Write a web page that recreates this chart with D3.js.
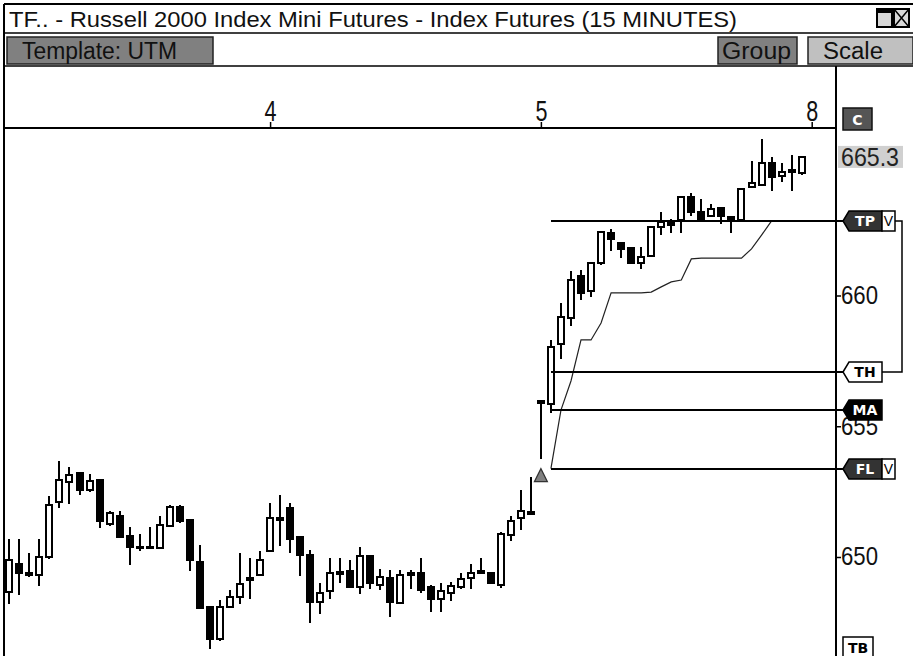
<!DOCTYPE html>
<html>
<head>
<meta charset="utf-8">
<script src="https://cdn.jsdelivr.net/npm/d3@7"></script>
<style>
  body { margin: 0; background: #fff; }
  svg { display: block; }
</style>
</head>
<body>
<div id="chart"></div>
<script>
const w = 913;
const h = 656;

const title = "TF.. - Russell 2000 Index Mini Futures - Index Futures (15 MINUTES)";
const template = "Template: UTM";

// barras de 15 minutos
const opens = [648.66, 649.73, 649.38, 649.31, 650.00, 652.10, 652.87, 653.21, 652.56, 652.94,
  651.26, 651.57, 650.80, 650.40, 650.40, 650.34, 651.19, 651.91, 651.41, 649.81,
  648.09, 646.86, 648.09, 648.47, 649.18, 649.31, 650.23, 651.48, 651.87, 650.76,
  650.08, 648.28, 648.70, 649.41, 649.46, 648.85, 650.04, 648.93, 649.20, 648.24,
  649.37, 649.39, 648.85, 648.39, 648.62, 648.85, 649.20, 649.45, 649.39, 648.93,
  650.84, 651.49, 651.72, 655.96, 655.86, 658.15, 659.14, 660.75, 660.17, 661.24,
  662.39, 662.01, 661.82, 661.24, 661.51, 662.62, 662.72, 662.89, 663.77, 663.19,
  663.04, 663.35, 663.00, 662.89, 664.15, 664.23, 665.07, 664.57, 664.79, 664.68];
const highs = [650.69, 650.69, 650.15, 650.69, 652.33, 653.67, 653.44, 653.25, 653.17, 652.98,
  651.76, 651.76, 651.15, 650.88, 651.15, 651.57, 651.99, 651.99, 651.41, 650.46,
  648.09, 648.36, 648.74, 650.15, 649.96, 650.23, 652.06, 652.37, 652.06, 650.76,
  650.27, 649.01, 649.96, 649.96, 649.89, 650.38, 650.04, 649.54, 649.50, 649.50,
  649.50, 649.96, 648.93, 649.01, 649.04, 649.39, 649.73, 649.96, 649.39, 650.96,
  651.57, 652.56, 653.06, 656.00, 658.30, 659.71, 660.94, 660.98, 661.28, 662.47,
  662.54, 662.01, 661.85, 661.85, 662.62, 663.19, 662.92, 663.77, 663.92, 663.69,
  663.50, 663.38, 663.00, 664.07, 665.14, 665.98, 665.30, 665.07, 665.37, 665.30];
const lows = [648.20, 648.55, 649.24, 648.89, 649.92, 651.87, 652.03, 652.37, 652.49, 651.11,
  651.19, 650.76, 649.69, 650.23, 650.31, 650.34, 651.19, 651.30, 649.46, 648.05,
  646.48, 646.79, 648.09, 648.20, 648.39, 649.31, 650.19, 650.42, 650.15, 649.27,
  647.48, 647.82, 648.39, 649.01, 648.81, 648.59, 648.78, 648.74, 647.71, 648.24,
  648.78, 648.62, 647.90, 647.90, 648.32, 648.78, 648.78, 649.39, 648.97, 648.81,
  650.61, 651.03, 651.61, 653.75, 655.50, 657.57, 658.83, 659.83, 659.94, 661.17,
  661.70, 661.43, 661.24, 661.01, 661.51, 662.31, 662.39, 662.39, 663.04, 662.85,
  663.04, 662.73, 662.39, 662.89, 664.15, 664.23, 664.00, 664.34, 664.00, 664.61];
const closes = [649.89, 649.39, 649.32, 650.00, 651.99, 652.94, 653.14, 652.56, 652.91, 651.38,
  651.68, 650.76, 650.38, 650.36, 650.36, 651.22, 651.91, 651.38, 649.89, 648.05,
  646.86, 648.09, 648.47, 648.97, 649.14, 649.89, 651.49, 651.44, 650.69, 650.08,
  648.28, 648.62, 649.39, 649.37, 648.85, 650.04, 649.01, 649.24, 648.28, 649.31,
  649.33, 648.74, 648.39, 648.70, 648.89, 649.16, 649.39, 649.41, 649.01, 650.88,
  651.38, 651.76, 651.68, 655.94, 658.04, 659.18, 660.59, 660.10, 661.24, 662.43,
  662.16, 661.78, 661.24, 661.47, 662.62, 662.81, 662.76, 663.77, 663.19, 662.85,
  663.31, 663.04, 662.89, 664.07, 664.30, 665.07, 664.53, 664.72, 664.75, 665.30];

// dias
const dayLabels = ["4", "5", "8"];
const dayStart = [26, 53, 80];

const priceTicks = [650, 655, 660];

// niveles
const levelNames = ["TP", "TH", "MA", "FL"];
const levelValues = [662.85, 657.06, 655.62, 653.38];
const levelFrom = 54;
const flagBar = 53;

// linea de stop
const stopBars = [54, 55, 56, 57, 58, 59, 60, 61, 62, 63, 64, 65, 66, 67, 68, 69, 70, 71, 72, 73, 74, 75, 76];
const stopValues = [653.38, 655.62, 656.73, 658.30, 658.30, 658.95, 660.10, 660.10, 660.10, 660.10,
  660.13, 660.33, 660.52, 660.59, 661.40, 661.43, 661.43, 661.43, 661.43, 661.43, 661.78, 662.31, 662.85];

const font = "'Liberation Sans Narrow', 'Liberation Sans', Arial, sans-serif";
const boldFont = "'DejaVu Sans', sans-serif";

const plotLeft = 5;
const plotRight = 836;
const plotTop = 129;

const xScale = d3.scaleLinear().domain([0, 80]).range([9.3, 811.7]);
const yScale = d3.scaleLinear().domain([646.214, 666.367]).range([656, 129]);

const svg = d3.select("#chart").append("svg").attr("width", w).attr("height", h);

svg.append("defs").append("clipPath").attr("id", "plot")
  .append("rect").attr("x", plotLeft).attr("y", plotTop).attr("width", plotRight - plotLeft).attr("height", h - plotTop);

// Marco y barra de titulo
svg.append("rect").attr("x", 0).attr("y", 0).attr("width", w).attr("height", h).attr("fill", "#fff");
svg.append("line").attr("x1", 4).attr("x2", w).attr("y1", 4).attr("y2", 4).attr("stroke", "#000").attr("stroke-width", 2);
svg.append("line").attr("x1", 4).attr("x2", 4).attr("y1", 4).attr("y2", h).attr("stroke", "#000").attr("stroke-width", 2);
svg.append("text").attr("x", 9).attr("y", 27).text(title)
  .attr("font-family", font).attr("font-size", 22).attr("fill", "#111")
  .attr("textLength", 728).attr("lengthAdjust", "spacingAndGlyphs");

// iconos ventana
svg.append("rect").attr("x", 877).attr("y", 9).attr("width", 15).attr("height", 18)
  .attr("fill", "#d8d8d8").attr("stroke", "#000").attr("stroke-width", 2);
svg.append("rect").attr("x", 877).attr("y", 9).attr("width", 15).attr("height", 4).attr("fill", "#000");
svg.append("rect").attr("x", 894).attr("y", 9).attr("width", 15).attr("height", 18)
  .attr("fill", "#d8d8d8").attr("stroke", "#000").attr("stroke-width", 2);
svg.append("path").attr("d", "M894,9L909,27M909,9L894,27").attr("stroke", "#000").attr("stroke-width", 1.5);

svg.append("line").attr("x1", 4).attr("x2", w).attr("y1", 33).attr("y2", 33).attr("stroke", "#000").attr("stroke-width", 1.5);

// botones
const buttons = [
  { label: template, x: 7, w: 206, fill: "#808080", tx: 22, tl: 155 },
  { label: "Group", x: 718, w: 79, fill: "#808080", tx: 722, tl: 69 },
  { label: "Scale", x: 808, w: 105, fill: "#c0c0c0", tx: 823, tl: 60 }
];
const btn = svg.selectAll(".btn").data(buttons).enter().append("g").attr("class", "btn");
btn.append("rect").attr("x", (d) => d.x).attr("y", 37).attr("width", (d) => d.w).attr("height", 27)
  .attr("fill", (d) => d.fill).attr("stroke", "#222").attr("stroke-width", 1.5);
btn.append("text").attr("x", (d) => d.tx).attr("y", 59).text((d) => d.label)
  .attr("font-family", font).attr("font-size", 23).attr("fill", "#111")
  .attr("textLength", (d) => d.tl).attr("lengthAdjust", "spacingAndGlyphs");

svg.append("line").attr("x1", 4).attr("x2", w).attr("y1", 66).attr("y2", 66).attr("stroke", "#000").attr("stroke-width", 1.5);

// Ejes
svg.append("line").attr("x1", plotLeft).attr("x2", plotRight).attr("y1", 128).attr("y2", 128)
  .attr("stroke", "#000").attr("stroke-width", 2);
svg.append("line").attr("x1", plotRight).attr("x2", plotRight).attr("y1", 66).attr("y2", h)
  .attr("stroke", "#000").attr("stroke-width", 2);

const xAxis = d3.axisTop(xScale).tickValues(dayStart).tickFormat((d, i) => dayLabels[i]).tickSize(6).tickPadding(1);
const gx = svg.append("g").attr("id", "x-axis").attr("transform", "translate(0,128)").call(xAxis);
gx.select(".domain").remove();
gx.selectAll("line").attr("stroke", "#000").attr("stroke-width", 1.5);
gx.selectAll("text").attr("font-family", font).attr("font-size", 29).attr("fill", "#111")
  .attr("textLength", 12).attr("lengthAdjust", "spacingAndGlyphs");

const yAxis = d3.axisRight(yScale).tickValues(priceTicks).tickSize(5).tickPadding(0);
const gy = svg.append("g").attr("id", "y-axis").attr("transform", `translate(${plotRight},0)`).call(yAxis);
gy.select(".domain").remove();
gy.selectAll("line").attr("stroke", "#000").attr("stroke-width", 1.5);
gy.selectAll("text").attr("font-family", font).attr("font-size", 25).attr("fill", "#111")
  .attr("textLength", 37).attr("lengthAdjust", "spacingAndGlyphs");

// Velas
const bars = opens.map((o, i) => ({ i, o, h: highs[i], l: lows[i], c: closes[i] }));
const plot = svg.append("g").attr("clip-path", "url(#plot)");

plot.selectAll(".wick").data(bars).enter().append("line").attr("class", "wick")
  .attr("x1", (d) => Math.round(xScale(d.i))).attr("x2", (d) => Math.round(xScale(d.i)))
  .attr("y1", (d) => yScale(d.h)).attr("y2", (d) => yScale(d.l))
  .attr("stroke", "#000").attr("stroke-width", 2).attr("shape-rendering", "crispEdges");

plot.selectAll(".body").data(bars).enter().append("rect").attr("class", "body")
  .attr("x", (d) => Math.round(xScale(d.i)) - 3)
  .attr("width", 6)
  .attr("y", (d) => yScale(Math.max(d.o, d.c)))
  .attr("height", (d) => Math.max(1.5, Math.abs(yScale(d.o) - yScale(d.c))))
  .attr("fill", (d) => (d.c >= d.o ? "#fff" : "#000"))
  .attr("stroke", "#000").attr("stroke-width", 2).attr("shape-rendering", "crispEdges");

// Niveles
const levelStyle = {
  TP: { fill: "#333", text: "#fff", v: true },
  TH: { fill: "#fff", text: "#000", v: false },
  MA: { fill: "#000", text: "#fff", v: false },
  FL: { fill: "#333", text: "#fff", v: true }
};
const levels = levelNames.map((n, i) => ({ name: n, value: levelValues[i] }));

svg.selectAll(".level").data(levels).enter().append("line").attr("class", "level")
  .attr("x1", xScale(levelFrom)).attr("x2", 843)
  .attr("y1", (d) => Math.round(yScale(d.value))).attr("y2", (d) => Math.round(yScale(d.value)))
  .attr("stroke", "#000").attr("stroke-width", 1.5).attr("shape-rendering", "crispEdges");

// stop
const stopLine = d3.line().x((d) => xScale(d[0])).y((d) => yScale(d[1]));
plot.append("path").datum(stopBars.map((b, i) => [b, stopValues[i]]))
  .attr("d", stopLine).attr("fill", "none").attr("stroke", "#222").attr("stroke-width", 1.2);

// triangulo
const tx = xScale(flagBar);
const ty = yScale(levelValues[3]);
svg.append("path").attr("d", `M${tx},${ty}L${tx + 6.5},${ty + 13}L${tx - 6.5},${ty + 13}Z`)
  .attr("fill", "#808080").attr("stroke", "#333").attr("stroke-width", 1.2);

// Precio actual
const last = closes[closes.length - 1];
svg.append("rect").attr("x", 838).attr("y", yScale(last) - 11).attr("width", 65).attr("height", 22).attr("fill", "#d0d0d0");
svg.append("text").attr("x", 841).attr("y", yScale(last)).attr("dy", "0.35em").text(d3.format(".1f")(last))
  .attr("font-family", font).attr("font-size", 25).attr("fill", "#222")
  .attr("textLength", 58).attr("lengthAdjust", "spacingAndGlyphs");

// C
svg.append("rect").attr("x", 843).attr("y", 108).attr("width", 29).attr("height", 22)
  .attr("fill", "#555").attr("stroke", "#111").attr("stroke-width", 1.5);
svg.append("text").attr("x", 857.5).attr("y", 125).attr("text-anchor", "middle").text("C")
  .attr("font-family", boldFont).attr("font-size", 14).attr("font-weight", "bold").attr("fill", "#fff");

// etiquetas
const tags = svg.selectAll(".tag").data(levels).enter().append("g").attr("class", "tag")
  .attr("transform", (d) => `translate(0,${Math.round(yScale(d.value))})`);
tags.append("path").attr("d", "M843,0L849,-10L882,-10L882,10L849,10Z")
  .attr("fill", (d) => levelStyle[d.name].fill).attr("stroke", "#000").attr("stroke-width", 1.5);
tags.append("text").attr("x", 865).attr("y", 0).attr("dy", "0.36em").attr("text-anchor", "middle")
  .text((d) => d.name).attr("font-family", boldFont).attr("font-size", 14).attr("font-weight", "bold")
  .attr("fill", (d) => levelStyle[d.name].text);
const vt = tags.filter((d) => levelStyle[d.name].v);
vt.append("rect").attr("x", 882).attr("y", -10).attr("width", 13).attr("height", 20)
  .attr("fill", "#fff").attr("stroke", "#000").attr("stroke-width", 1.5);
vt.append("text").attr("x", 888.5).attr("y", 0).attr("dy", "0.36em").attr("text-anchor", "middle").text("V")
  .attr("font-family", font).attr("font-size", 14).attr("fill", "#000");

// corchete TP-TH
const yTP = Math.round(yScale(levelValues[0]));
const yTH = Math.round(yScale(levelValues[1]));
svg.append("path").attr("d", `M895,${yTP}H902V${yTH}H882`).attr("fill", "none").attr("stroke", "#000").attr("stroke-width", 1.5);

// TB
svg.append("rect").attr("x", 843).attr("y", 637).attr("width", 30).attr("height", 22)
  .attr("fill", "#fff").attr("stroke", "#000").attr("stroke-width", 1.5);
svg.append("text").attr("x", 858).attr("y", 653).attr("text-anchor", "middle").text("TB")
  .attr("font-family", boldFont).attr("font-size", 14).attr("font-weight", "bold").attr("fill", "#000");
</script>
</body>
</html>
